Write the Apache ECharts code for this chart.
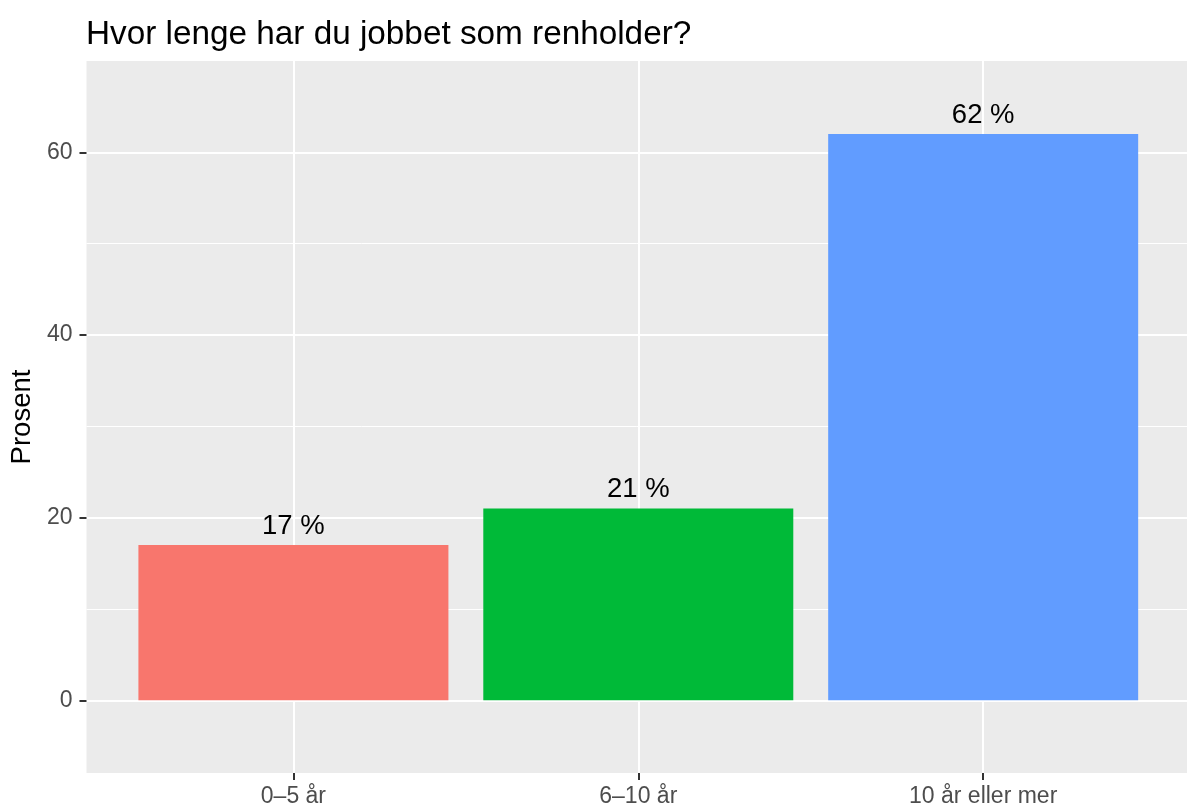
<!DOCTYPE html>
<html>
<head>
<meta charset="utf-8">
<script src="https://cdn.jsdelivr.net/npm/echarts@6/dist/echarts.min.js"></script>
<style>
  html, body { margin: 0; padding: 0; background: #fff; }
  #chart { width: 1187px; height: 809px; }
</style>
</head>
<body>
<div id="chart"></div>
<script>
// data
const categories = ['0–5 år', '6–10 år', '10 år eller mer']
const values = [17, 21, 62]
const yMajorTicks = [0, 20, 40, 60]
const yMinorTicks = [10, 30, 50]

const barColors = ['#F8766D', '#00BA38', '#619CFF']
const font = 'Liberation Sans, Arial, sans-serif'

const xPositions = categories.map((c, i) => i + 1)
const barData = values.map((v, i) => ({
  value: [xPositions[i], v],
  itemStyle: { color: barColors[i] }
}))

const chart = echarts.init(document.getElementById('chart'))

chart.setOption({
  animation: false,
  backgroundColor: '#fff',
  title: {
    text: 'Hvor lenge har du jobbet som renholder?',
    left: 81,
    top: 13,
    textStyle: { fontFamily: font, fontSize: 33.3, fontWeight: 'normal', color: '#000' }
  },
  grid: {
    left: 86, right: 0, top: 61, bottom: 36,
    show: true, backgroundColor: '#EBEBEB', borderWidth: 0
  },
  xAxis: {
    type: 'value',
    min: 0.4,
    max: 3.591,
    axisLine: { show: false, onZero: false },
    axisTick: { show: true, length: 7, customValues: xPositions, lineStyle: { color: '#333', width: 2 } },
    axisLabel: {
      customValues: xPositions,
      margin: 12,
      fontFamily: font, fontSize: 23, color: '#4D4D4D',
      formatter: (v) => categories[Math.round(v) - 1] || ''
    },
    splitLine: { show: true, lineStyle: { color: '#fff', width: 2 } }
  },
  yAxis: [{
    type: 'value',
    min: -7.96,
    max: 70,
    name: 'Prosent',
    nameLocation: 'middle',
    nameGap: 46,
    nameTextStyle: { fontFamily: font, fontSize: 27.5, color: '#000' },
    axisLine: { show: false, onZero: false },
    axisTick: { show: true, length: 7, customValues: yMajorTicks, lineStyle: { color: '#333', width: 2 } },
    axisLabel: {
      customValues: yMajorTicks,
      margin: 14,
      fontFamily: font, fontSize: 23, color: '#4D4D4D'
    },
    splitLine: { show: true, lineStyle: { color: '#fff', width: 2 } }
  }, {
    type: 'value',
    min: -7.96,
    max: 70,
    position: 'left',
    axisLine: { show: false, onZero: false },
    axisTick: { show: false, customValues: yMinorTicks },
    axisLabel: { show: false, customValues: yMinorTicks },
    splitLine: { show: true, lineStyle: { color: '#fff', width: 1 } }
  }],
  series: [{
    type: 'bar',
    yAxisIndex: 0,
    barWidth: 310,
    data: barData,
    label: {
      show: true,
      position: 'top',
      distance: 5,
      fontFamily: font,
      fontSize: 27.5,
      color: '#000',
      formatter: (p) => p.value[1] + ' %'
    }
  }]
})
</script>
</body>
</html>
